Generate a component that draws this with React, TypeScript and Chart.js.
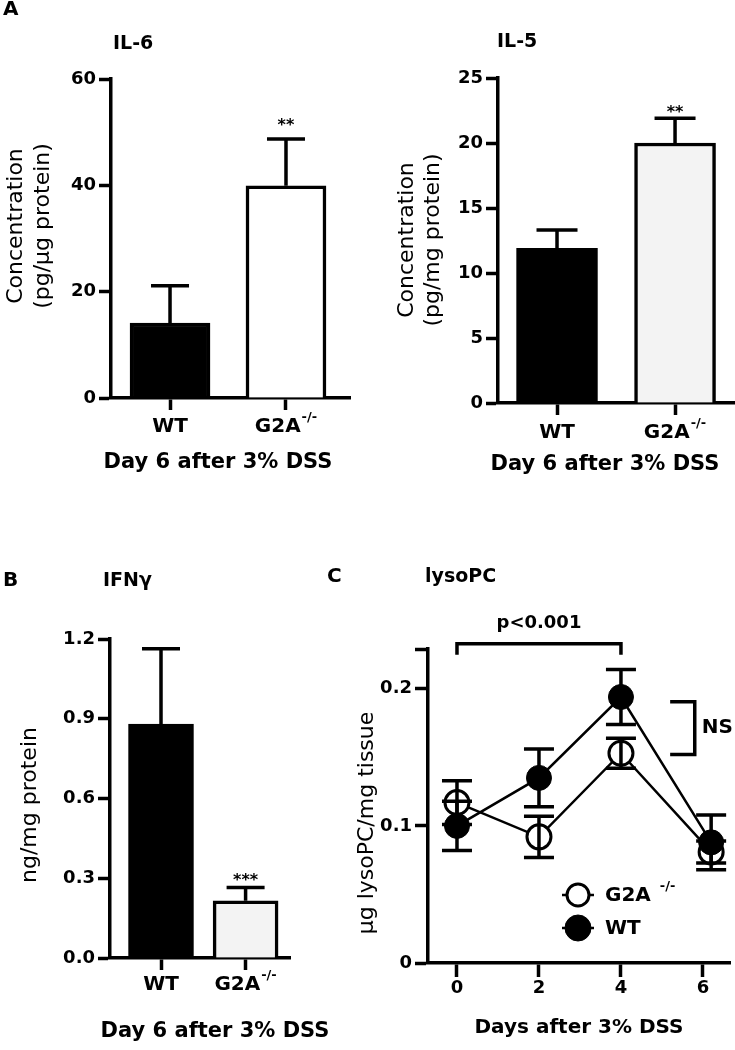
import React, { useEffect, useRef } from 'react';
import { Chart, registerables } from 'chart.js';

Chart.register(...registerables);

const FONT = "'DejaVu Sans', sans-serif";
Chart.defaults.font.family = FONT;
Chart.defaults.color = '#000';

// ---------------- data ----------------
const barCategories = ['WT', 'G2A'];
const barCategorySup = ['', '-/-'];

const il6Values = [14.1, 39.9];
const il6Errors = [7.0, 8.8];
const il6Stars = ['', '**'];
const il6YTicks = [0, 20, 40, 60];

const il5Values = [11.9, 20.0];
const il5Errors = [1.4, 1.9];
const il5Stars = ['', '**'];
const il5YTicks = [0, 5, 10, 15, 20, 25];

const ifngValues = [0.88, 0.215];
const ifngErrors = [0.283, 0.05];
const ifngStars = ['', '***'];
const ifngYTicks = [0, 0.3, 0.6, 0.9, 1.2];

const lysoDays = [0, 2, 4, 6.2];
const lysoWT = [0.1, 0.135, 0.194, 0.088];
const lysoWTErr = [0.018, 0.021, 0.02, 0.02];
const lysoKO = [0.117, 0.092, 0.153, 0.081];
const lysoKOErr = [0.016, 0.015, 0.011, 0.008];
const lysoXTicks = [0, 2, 4, 6];
const lysoYTicks = [0, 0.1, 0.2];
const lysoYMax = 0.229;
const legendLabels = ['G2A', 'WT'];
const legendSup = ['-/-', ''];

// ---------------- helpers ----------------
const LW = 3.5;
const bold = (size: number) => ({ family: FONT, weight: 'bold' as const, size });

function text(ctx: CanvasRenderingContext2D, s: string, x: number, y: number, font: string, align: CanvasTextAlign = 'left', baseline: CanvasTextBaseline = 'middle') {
  ctx.font = font;
  ctx.textAlign = align;
  ctx.textBaseline = baseline;
  ctx.fillStyle = '#000';
  ctx.fillText(s, x, y);
}

function vText(ctx: CanvasRenderingContext2D, lines: string[], cx: number, cy: number, size: number, lineH: number) {
  ctx.save();
  ctx.font = `${size}px ${FONT}`;
  ctx.textAlign = 'center';
  ctx.textBaseline = 'middle';
  ctx.fillStyle = '#000';
  lines.forEach((l, i) => {
    ctx.save();
    ctx.translate(cx + i * lineH, cy);
    ctx.rotate(-Math.PI / 2);
    ctx.fillText(l, 0, 0);
    ctx.restore();
  });
  ctx.restore();
}

function supText(ctx: CanvasRenderingContext2D, main: string, sup: string, cx: number, y: number, size: number, supSize: number, gap: number, align: 'center' | 'left') {
  const mf = `bold ${size}px ${FONT}`;
  const sf = `bold ${supSize}px ${FONT}`;
  ctx.font = mf;
  const w1 = ctx.measureText(main).width;
  ctx.font = sf;
  const w2 = sup ? ctx.measureText(sup).width + gap : 0;
  const sx = align === 'center' ? cx - (w1 + w2) / 2 : cx;
  text(ctx, main, sx, y, mf);
  if (sup) text(ctx, sup, sx + w1 + gap, y - size * 0.45, sf);
}

interface Box { left: number; top: number; w: number; h: number }

interface BarPanel {
  box: Box;
  padding: { top: number; right: number; bottom: number; left: number };
  yWidth: number;
  xHeight: number;
  xMin: number;
  xMax: number;
  yMax: number;
  yTicks: number[];
  yFmt: (v: number) => string;
  values: number[];
  errors: number[];
  fills: string[];
  stars: string[];
  starGap: number;
  barThickness: number;
  capWidth: number;
  yTitle: string[];
  yTitleX: number;
  yTitleY: number;
  yTitleLineH: number;
  xTitle: string;
  xTitleX: number;
  xTitleY: number;
  title: string;
  titleX: number;
  titleY: number;
  letter: string;
  letterX: number;
  letterY: number;
  labelDy: number;
}

function barDecor(p: BarPanel) {
  return {
    id: 'barDecor',
    afterDatasetsDraw(chart: any) {
      const ctx: CanvasRenderingContext2D = chart.ctx;
      const xs = chart.scales.x;
      const ys = chart.scales.y;
      ctx.save();
      ctx.strokeStyle = '#000';
      ctx.lineWidth = LW;
      ctx.lineCap = 'butt';
      p.values.forEach((v, i) => {
        const x = xs.getPixelForValue(i);
        const y0 = ys.getPixelForValue(v);
        const y1 = ys.getPixelForValue(v + p.errors[i]);
        ctx.beginPath();
        ctx.moveTo(x, y0);
        ctx.lineTo(x, y1);
        ctx.moveTo(x - p.capWidth / 2, y1);
        ctx.lineTo(x + p.capWidth / 2, y1);
        ctx.stroke();
        if (p.stars[i]) text(ctx, p.stars[i], x, y1 - p.starGap, `bold 16px ${FONT}`, 'center', 'alphabetic');
      });
      ctx.restore();
    },
    afterDraw(chart: any) {
      const ctx: CanvasRenderingContext2D = chart.ctx;
      const xs = chart.scales.x;
      ctx.save();
      barCategories.forEach((c, i) => {
        supText(ctx, c, barCategorySup[i], xs.getPixelForValue(i), xs.top + p.labelDy, 20, 13, 1, 'center');
      });
      text(ctx, p.xTitle, p.xTitleX, p.xTitleY, `bold 21px ${FONT}`, 'center');
      vText(ctx, p.yTitle, p.yTitleX, p.yTitleY, 22, p.yTitleLineH);
      text(ctx, p.title, p.titleX, p.titleY, `bold 19px ${FONT}`);
      if (p.letter) text(ctx, p.letter, p.letterX, p.letterY, `bold 20px ${FONT}`);
      ctx.restore();
    },
  };
}

const tickGrid = (len: number) => ({
  display: true,
  offset: false,
  drawOnChartArea: false,
  drawTicks: true,
  tickLength: len,
  tickWidth: LW,
  tickColor: '#000',
});
const axisBorder = { display: true, color: '#000', width: LW };

function makeBarConfig(p: BarPanel): any {
  return {
    type: 'bar',
    data: {
      datasets: [
        {
          data: p.values.map((v, i) => ({ x: i, y: v })),
          backgroundColor: p.fills,
          borderColor: '#000',
          borderWidth: LW,
          borderSkipped: 'start',
          barThickness: p.barThickness,
        },
      ],
    },
    options: {
      responsive: false,
      animation: false,
      devicePixelRatio: 1,
      layout: { padding: p.padding, autoPadding: false },
      plugins: { legend: { display: false }, tooltip: { enabled: false }, title: { display: false } },
      scales: {
        x: {
          type: 'linear',
          min: p.xMin,
          max: p.xMax,
          offset: false,
          afterBuildTicks: (s: any) => {
            s.ticks = barCategories.map((_, i) => ({ value: i }));
          },
          afterFit: (s: any) => {
            s.height = p.xHeight;
            s.paddingLeft = 0;
            s.paddingRight = 0;
          },
          ticks: { display: false },
          grid: tickGrid(12),
          border: axisBorder,
          title: { display: false },
        },
        y: {
          type: 'linear',
          min: 0,
          max: p.yMax,
          afterBuildTicks: (s: any) => {
            s.ticks = p.yTicks.map((v) => ({ value: v }));
          },
          afterFit: (s: any) => {
            s.width = p.yWidth;
          },
          ticks: { font: bold(18), color: '#000', padding: 3, callback: (v: number) => p.yFmt(v) },
          grid: tickGrid(12),
          border: axisBorder,
          title: { display: false },
        },
      },
    },
    plugins: [barDecor(p)],
  };
}

const il6Panel: BarPanel = {
  box: { left: 0, top: 0, w: 360, h: 490 },
  padding: { top: 79, right: 10, bottom: 0, left: 0 },
  yWidth: 111,
  xHeight: 92,
  xMin: -0.509,
  xMax: 1.552,
  yMax: 60,
  yTicks: il6YTicks,
  yFmt: (v) => String(v),
  values: il6Values,
  errors: il6Errors,
  fills: ['#000000', '#ffffff'],
  stars: il6Stars,
  starGap: 9,
  barThickness: 80,
  capWidth: 38,
  yTitle: ['Concentration', '(pg/\u03bcg protein)'],
  yTitleX: 16,
  yTitleY: 226,
  yTitleLineH: 27,
  xTitle: 'Day 6 after 3% DSS',
  xTitleX: 218,
  xTitleY: 463,
  title: 'IL-6',
  titleX: 113,
  titleY: 44,
  letter: 'A',
  letterX: 3,
  letterY: 10,
  labelDy: 29,
};

const il5Panel: BarPanel = {
  box: { left: 370, top: 0, w: 365, h: 490 },
  padding: { top: 78, right: 0, bottom: 0, left: 0 },
  yWidth: 128,
  xHeight: 87,
  xMin: -0.5,
  xMax: 1.508,
  yMax: 25,
  yTicks: il5YTicks,
  yFmt: (v) => String(v),
  values: il5Values,
  errors: il5Errors,
  fills: ['#000000', '#f3f3f3'],
  stars: il5Stars,
  starGap: 1,
  barThickness: 81,
  capWidth: 41,
  yTitle: ['Concentration', '(pg/mg protein)'],
  yTitleX: 37,
  yTitleY: 240,
  yTitleLineH: 26,
  xTitle: 'Day 6 after 3% DSS',
  xTitleX: 235,
  xTitleY: 465,
  title: 'IL-5',
  titleX: 127,
  titleY: 42,
  letter: '',
  letterX: 0,
  letterY: 0,
  labelDy: 30,
};

const ifngPanel: BarPanel = {
  box: { left: 0, top: 520, w: 330, h: 530 },
  padding: { top: 119, right: 40, bottom: 0, left: 0 },
  yWidth: 110,
  xHeight: 92,
  xMin: -0.603,
  xMax: 1.525,
  yMax: 1.2,
  yTicks: ifngYTicks,
  yFmt: (v) => v.toFixed(1),
  values: ifngValues,
  errors: ifngErrors,
  fills: ['#000000', '#f3f3f3'],
  stars: ifngStars,
  starGap: 2.5,
  barThickness: 65,
  capWidth: 38,
  yTitle: ['ng/mg protein'],
  yTitleX: 30,
  yTitleY: 285,
  yTitleLineH: 26,
  xTitle: 'Day 6 after 3% DSS',
  xTitleX: 215,
  xTitleY: 512,
  title: 'IFN\u03b3',
  titleX: 103,
  titleY: 61,
  letter: 'B',
  letterX: 3,
  letterY: 61,
  labelDy: 27,
};

// ---------------- lysoPC line panel ----------------
const lysoBox: Box = { left: 325, top: 520, w: 410, h: 530 };
const pBracket = { x1: 0, x2: 4, y: 0.2328, legY: 0.2248, label: 'p<0.001', labelY: 0.248 };
const nsBracket = { x: 5.8, armX: 5.2, y1: 0.1905, y2: 0.152, label: 'NS', labelX: 5.97 };

const lysoDecor = {
  id: 'lysoDecor',
  afterDatasetsDraw(chart: any) {
    const ctx: CanvasRenderingContext2D = chart.ctx;
    const xs = chart.scales.x;
    const ys = chart.scales.y;
    ctx.save();
    ctx.strokeStyle = '#000';
    ctx.lineWidth = LW;
    ctx.lineCap = 'butt';
    const series: [number[], number[]][] = [
      [lysoKO, lysoKOErr],
      [lysoWT, lysoWTErr],
    ];
    for (const [vals, errs] of series) {
      vals.forEach((v, i) => {
        const x = xs.getPixelForValue(lysoDays[i]);
        const yHi = ys.getPixelForValue(v + errs[i]);
        const yLo = ys.getPixelForValue(v - errs[i]);
        ctx.beginPath();
        ctx.moveTo(x, yHi);
        ctx.lineTo(x, yLo);
        ctx.moveTo(x - 15, yHi);
        ctx.lineTo(x + 15, yHi);
        ctx.moveTo(x - 15, yLo);
        ctx.lineTo(x + 15, yLo);
        ctx.stroke();
      });
    }
    // p-value bracket
    const bx1 = xs.getPixelForValue(pBracket.x1);
    const bx2 = xs.getPixelForValue(pBracket.x2);
    const by = ys.getPixelForValue(pBracket.y);
    const bl = ys.getPixelForValue(pBracket.legY);
    ctx.beginPath();
    ctx.moveTo(bx1, bl);
    ctx.lineTo(bx1, by);
    ctx.lineTo(bx2, by);
    ctx.lineTo(bx2, bl);
    ctx.stroke();
    text(ctx, pBracket.label, (bx1 + bx2) / 2, ys.getPixelForValue(pBracket.labelY), `bold 18px ${FONT}`, 'center');
    // NS bracket
    const nx = xs.getPixelForValue(nsBracket.x);
    const na = xs.getPixelForValue(nsBracket.armX);
    const ny1 = ys.getPixelForValue(nsBracket.y1);
    const ny2 = ys.getPixelForValue(nsBracket.y2);
    ctx.beginPath();
    ctx.moveTo(na, ny1);
    ctx.lineTo(nx, ny1);
    ctx.lineTo(nx, ny2);
    ctx.lineTo(na, ny2);
    ctx.stroke();
    text(ctx, nsBracket.label, xs.getPixelForValue(nsBracket.labelX), (ny1 + ny2) / 2, `bold 20px ${FONT}`);
    ctx.restore();
  },
  afterDraw(chart: any) {
    const ctx: CanvasRenderingContext2D = chart.ctx;
    ctx.save();
    // legend
    legendLabels.forEach((lab, i) => {
      const cy = 375 + i * 33;
      ctx.strokeStyle = '#000';
      ctx.lineWidth = 2.5;
      ctx.beginPath();
      ctx.moveTo(237, cy);
      ctx.lineTo(269, cy);
      ctx.stroke();
      ctx.beginPath();
      ctx.arc(253, cy, i === 0 ? 11 : 13, 0, Math.PI * 2);
      ctx.fillStyle = i === 0 ? '#fff' : '#000';
      ctx.fill();
      ctx.lineWidth = i === 0 ? 3 : 1;
      ctx.stroke();
      supText(ctx, lab, legendSup[i], 280, cy + 1, 20, 13, 9, 'left');
    });
    vText(ctx, ['\u03bcg lysoPC/mg tissue'], 42, 303, 22, 26);
    text(ctx, 'lysoPC', 100, 57, `bold 19px ${FONT}`);
    text(ctx, 'C', 2, 57, `bold 20px ${FONT}`);
    ctx.restore();
  },
};

function makeLysoConfig(): any {
  return {
    type: 'line',
    data: {
      datasets: [
        {
          label: 'WT',
          data: lysoDays.map((d, i) => ({ x: d, y: lysoWT[i] })),
          borderColor: '#000',
          borderWidth: 2.5,
          tension: 0,
          pointRadius: 12.5,
          pointBackgroundColor: '#000',
          pointBorderColor: '#000',
          pointBorderWidth: 1,
          order: 0,
          clip: false,
        },
        {
          label: 'G2A -/-',
          data: lysoDays.map((d, i) => ({ x: d, y: lysoKO[i] })),
          borderColor: '#000',
          borderWidth: 2.5,
          tension: 0,
          pointRadius: 12,
          pointBackgroundColor: '#fff',
          pointBorderColor: '#000',
          pointBorderWidth: 3,
          order: 1,
          clip: false,
        },
      ],
    },
    options: {
      responsive: false,
      animation: false,
      devicePixelRatio: 1,
      layout: { padding: { top: 129, right: 5, bottom: 0, left: 0 }, autoPadding: false },
      plugins: { legend: { display: false }, tooltip: { enabled: false }, title: { display: false } },
      scales: {
        x: {
          type: 'linear',
          min: -0.707,
          max: 6.66,
          afterBuildTicks: (s: any) => {
            s.ticks = lysoXTicks.map((v) => ({ value: v }));
          },
          afterFit: (s: any) => {
            s.height = 87;
            s.paddingLeft = 0;
            s.paddingRight = 0;
          },
          ticks: { font: bold(18), color: '#000', padding: 1, callback: (v: number) => String(v) },
          grid: tickGrid(14),
          border: axisBorder,
          title: { display: true, text: 'Days after 3% DSS', font: bold(20), color: '#000', padding: { top: 0, bottom: 10 } },
        },
        y: {
          type: 'linear',
          min: 0,
          max: lysoYMax,
          afterBuildTicks: (s: any) => {
            s.ticks = [...lysoYTicks, lysoYMax].map((v) => ({ value: v }));
          },
          afterFit: (s: any) => {
            s.width = 103;
          },
          ticks: {
            font: bold(18),
            color: '#000',
            padding: 3,
            callback: (v: number) => (lysoYTicks.includes(v) ? (v === 0 ? '0' : v.toFixed(1)) : ''),
          },
          grid: tickGrid(13),
          border: axisBorder,
          title: { display: false },
        },
      },
    },
    plugins: [lysoDecor],
  };
}

function ChartCanvas({ box, make }: { box: Box; make: () => any }) {
  const ref = useRef<HTMLCanvasElement>(null);
  useEffect(() => {
    const chart = new Chart(ref.current as HTMLCanvasElement, make());
    return () => chart.destroy();
  }, []);
  return (
    <canvas
      ref={ref}
      width={box.w}
      height={box.h}
      style={{ position: 'absolute', left: box.left, top: box.top, width: box.w, height: box.h }}
    />
  );
}

export default function App() {
  return (
    <div style={{ position: 'absolute', left: 0, top: 0, width: 735, height: 1050, background: '#fff' }}>
      <ChartCanvas box={il6Panel.box} make={() => makeBarConfig(il6Panel)} />
      <ChartCanvas box={il5Panel.box} make={() => makeBarConfig(il5Panel)} />
      <ChartCanvas box={ifngPanel.box} make={() => makeBarConfig(ifngPanel)} />
      <ChartCanvas box={lysoBox} make={makeLysoConfig} />
    </div>
  );
}
